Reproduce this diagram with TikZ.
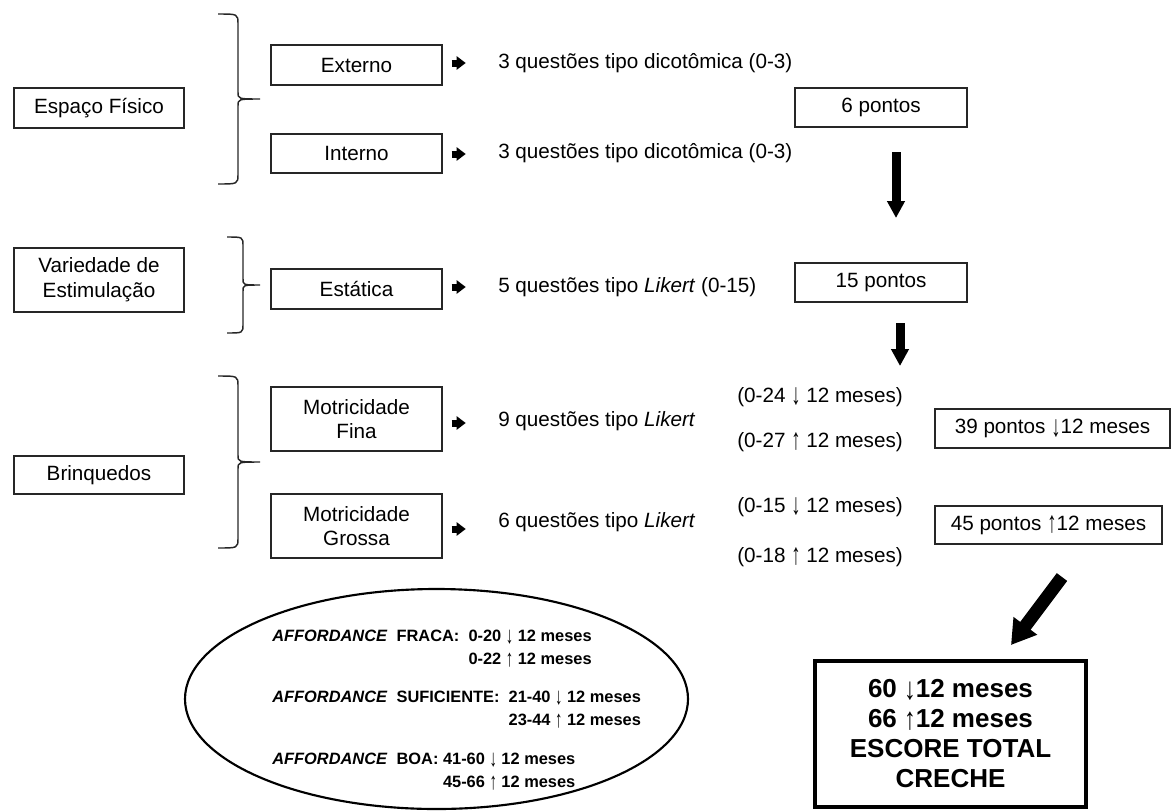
\documentclass[tikz,border=0pt]{standalone}
\usepackage{fontspec}
\setmainfont{Liberation Sans}
\usetikzlibrary{arrows.meta,shapes.geometric,calc}
\newcommand{\dnarr}{\raisebox{-0.12em}{\scalebox{0.9}[1.45]{↓}}}
\newcommand{\uparr}{\raisebox{-0.12em}{\scalebox{0.9}[1.45]{↑}}}
\newcommand{\dnarrb}{\raisebox{-0.05em}{\scalebox{0.9}[1.2]{↓}}}
\newcommand{\uparrb}{\raisebox{-0.05em}{\scalebox{0.9}[1.2]{↑}}}
\begin{document}
\begin{tikzpicture}[x=0.75pt,y=-0.75pt,
  box/.style={draw=black!85,line width=1.1pt,inner sep=2pt,align=center,
    font=\fontsize{15.5}{18.5}\selectfont,minimum height=40*0.75pt},
  lbox/.style={box,minimum width=170*0.75pt},
  mbox/.style={box,minimum width=171*0.75pt},
  txt/.style={inner sep=0pt,anchor=west,font=\fontsize{15.5}{18.5}\selectfont},
  etxt/.style={inner sep=0pt,font=\fontsize{12.3}{14}\selectfont\bfseries},
  brace/.style={draw=black!85,line width=1.1pt},
  smallarr/.style={line width=7*0.75pt,-{Triangle[length=9*0.75pt,width=13*0.75pt]}},
  bigarr/.style={line width=9*0.75pt,-{Triangle[length=17*0.75pt,width=17*0.75pt]}},
  diagarr/.style={line width=13*0.75pt,-{Triangle[length=24*0.75pt,width=28*0.75pt]}}
]
\useasboundingbox (0,0) rectangle (1171,811);

% left column
\node[lbox] (esp) at (99,108) {Espaço Físico};
\node[lbox,minimum height=64*0.75pt] (var) at (99,280) {Variedade de\\Estimulação};
\node[lbox,minimum height=38*0.75pt] (brq) at (99,475) {Brinquedos};

% braces
\draw[brace] (218,14) .. controls (238,14) .. (238,24) -- (238,92) .. controls (238,99) .. (260,99)
  .. controls (238,99) .. (238,106) -- (238,174) .. controls (238,184) .. (218,184);
\draw[brace] (227,237) .. controls (243,237) .. (243,246) -- (243,279) .. controls (243,285) .. (260,285)
  .. controls (243,285) .. (243,291) -- (243,324) .. controls (243,333) .. (227,333);
\draw[brace] (218,376) .. controls (238,376) .. (238,386) -- (238,455) .. controls (238,462) .. (260,462)
  .. controls (238,462) .. (238,469) -- (238,538) .. controls (238,548) .. (218,548);

% middle column
\node[mbox] (ext) at (356.5,65) {Externo};
\node[mbox,minimum height=39*0.75pt] (int) at (356.5,153.5) {Interno};
\node[mbox] (est) at (356.5,289) {Estática};
\node[mbox,minimum height=64*0.75pt] (mf) at (356.5,419) {Motricidade\\Fina};
\node[mbox,minimum height=64*0.75pt] (mg) at (356.5,526) {Motricidade\\Grossa};

% question texts
\node[txt] (q1) at (498,63) {3 questões tipo dicotômica (0-3)};
\node[txt] (q2) at (498,153) {3 questões tipo dicotômica (0-3)};
\node[txt] (q3) at (498,287) {5 questões tipo \textit{Likert} (0-15)};
\node[txt] (q4) at (498,421) {9 questões tipo \textit{Likert}};
\node[txt] (q5) at (498,522) {6 questões tipo \textit{Likert}};

% small arrows
\draw[smallarr] ($(ext.east)+(9,-2)$) -- ($(ext.east)+(23,-2)$);
\draw[smallarr] ($(int.east)+(9,0.5)$) -- ($(int.east)+(23,0.5)$);
\draw[smallarr] ($(est.east)+(9,-2)$) -- ($(est.east)+(23,-2)$);
\draw[smallarr] ($(mf.east)+(9,4)$) -- ($(mf.east)+(23,4)$);
\draw[smallarr] ($(mg.east)+(9,3)$) -- ($(mg.east)+(23,3)$);

% ranges
\node[txt] (r1) at (737,397) {(0-24 \dnarr{} 12 meses)};
\node[txt] (r2) at (737,442) {(0-27 \uparr{} 12 meses)};
\node[txt] (r3) at (737,507) {(0-15 \dnarr{} 12 meses)};
\node[txt] (r4) at (737,557) {(0-18 \uparr{} 12 meses)};

% right boxes
\node[box,minimum width=172*0.75pt,minimum height=39*0.75pt] (six) at (881,107.5) {6 pontos};
\node[box,minimum width=172*0.75pt,minimum height=39*0.75pt] (fifteen) at (881,282.5) {15 pontos};
\node[box,minimum width=235*0.75pt,minimum height=39*0.75pt] (p39) at (1052.5,428.5) {39 pontos \dnarr12 meses};
\node[box,minimum width=227*0.75pt,minimum height=38*0.75pt] (p45) at (1048.5,525) {45 pontos \uparr12 meses};

% big arrows
\coordinate (a1s) at (896,152);
\coordinate (a1e) at (896,218);
\draw[bigarr] (a1s) -- (a1e);
\coordinate (a2s) at (900,323);
\coordinate (a2e) at (900,366);
\draw[bigarr] (a2s) -- (a2e);

% total box
\node[draw,line width=2.3pt,minimum width=271*0.75pt,minimum height=146*0.75pt,align=center,
  font=\fontsize{19.5}{22.5}\selectfont\bfseries] (tot) at (950.5,734)
  {60 \dnarrb12 meses\\66 \uparrb12 meses\\ESCORE TOTAL\\CRECHE};
\coordinate (a3s) at (1062,577);
\coordinate (a3e) at (1011,645);
\draw[diagarr] (a3s) -- (a3e);

% ellipse
\node[draw,ellipse,line width=1.6pt,minimum width=503*0.75pt,minimum height=220*0.75pt,inner sep=0pt] (ell) at (436.5,699) {};
\node[etxt,anchor=west] (f1) at (272,637) {\textit{AFFORDANCE}\ \ FRACA:\ \ 0-20 \dnarr{} 12 meses};
\node[etxt,anchor=north east] (f2) at ($(f1.south east)+(0,8)$) {0-22 \uparr{} 12 meses};
\node[etxt,anchor=west] (s1) at (272,698) {\textit{AFFORDANCE}\ \ SUFICIENTE:\ \ 21-40 \dnarr{} 12 meses};
\node[etxt,anchor=north east] (s2) at ($(s1.south east)+(0,8)$) {23-44 \uparr{} 12 meses};
\node[etxt,anchor=west] (b1) at (272,760) {\textit{AFFORDANCE}\ \ BOA: 41-60 \dnarr{} 12 meses};
\node[etxt,anchor=north east] (b2) at ($(b1.south east)+(0,8)$) {45-66 \uparr{} 12 meses};
\end{tikzpicture}
\end{document}
